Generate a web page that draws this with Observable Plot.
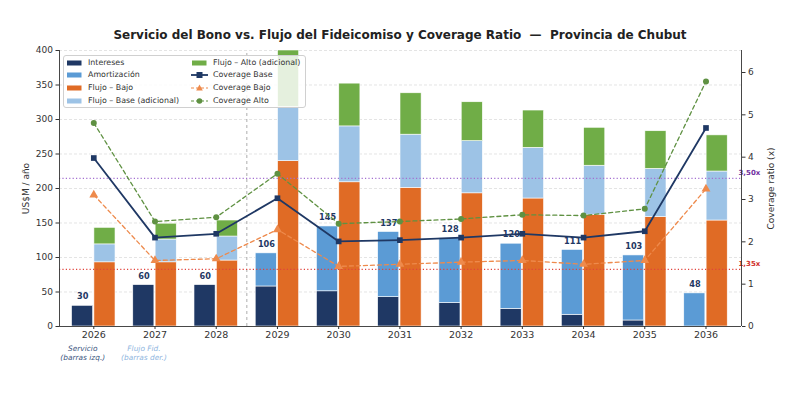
<!DOCTYPE html>
<html>
<head>
<meta charset="utf-8">
<script src="https://cdn.jsdelivr.net/npm/d3@7"></script>
<script src="https://cdn.jsdelivr.net/npm/@observablehq/plot@0.6"></script>
<style>
  html, body { margin: 0; padding: 0; background: #fff; }
  #wrap { position: relative; width: 800px; height: 395px; font-family: "DejaVu Sans", sans-serif; }
  #title { height: 44px; box-sizing: border-box; padding-top: 28px; line-height: 14px; text-align: center;
           font-weight: bold; font-size: 12px; color: #222; white-space: pre; }
  #legend { position: absolute; left: 63px; top: 55px; width: 243px; height: 53px; box-sizing: border-box;
            border: 1px solid #d0d0d0; border-radius: 3px; background: rgba(255,255,255,0.82);
            font-size: 7.9px; color: #333; }
  .li { position: absolute; height: 12px; line-height: 12px; white-space: nowrap; }
  .li svg { position: absolute; left: 0; top: 0; }
  .li span { position: absolute; top: 0; }
</style>
</head>
<body>
<div id="wrap">
  <div id="title">Servicio del Bono vs. Flujo del Fideicomiso y Coverage Ratio  —  Provincia de Chubut</div>
  <div id="chart"></div>
  <div id="legend"></div>
</div>
<script>
// ---- data ----
const years = [2026, 2027, 2028, 2029, 2030, 2031, 2032, 2033, 2034, 2035, 2036];
const intereses    = [30, 60, 60, 58, 51, 42.5, 34, 25.6, 17, 8.7, 0];
const amortizacion = [0, 0, 0, 48, 94, 94.5, 94, 94.4, 94, 94.3, 48];
const servicioLabels = [30, 60, 60, 106, 145, 137, 128, 120, 111, 103, 48];
const flujoBajo      = [93, 93, 95.6, 239.6, 209, 201, 193, 185.5, 162, 158.5, 153.6];
const flujoBaseAdic  = [26, 33, 34.8, 78.4, 81, 77, 75.6, 73.5, 71, 70, 71];
const flujoAltoAdic  = [24, 23, 23.2, 82, 62, 60, 56.4, 54, 55, 54.5, 52.4];
const coverageBase = [3.98, 2.10, 2.19, 3.03, 2.01, 2.04, 2.10, 2.19, 2.10, 2.25, 4.69];
const coverageBajo = [3.11, 1.56, 1.60, 2.29, 1.42, 1.47, 1.52, 1.56, 1.47, 1.56, 3.25];
const coverageAlto = [4.81, 2.48, 2.58, 3.61, 2.43, 2.48, 2.54, 2.64, 2.62, 2.78, 5.79];
const leftTicks = [0, 50, 100, 150, 200, 250, 300, 350, 400];
const rightTicks = [0, 1, 2, 3, 4, 5, 6];
const thresholds = [{v: 3.50, label: "3,50x", color: "#7030a0", line: "#a36fd0"},
                    {v: 1.35, label: "1,35x", color: "#d0302a", line: "#e0443c"}];
const notes = [{x: 2025.82, l1: "Servicio", l2: "(barras izq.)", color: "#3b5680"},
               {x: 2026.82, l1: "Flujo Fid.", l2: "(barras der.)", color: "#8fb6e0"}];

const C = {
  intereses: "#1f3864", amort: "#5b9bd5", bajo: "#e06b25", base: "#9dc3e6", alto: "#70ad47",
  covBase: "#1f3864", covBajo: "#ee8a4c", covAlto: "#5f9142"
};

const yMax = 400, y2Max = 6.52, k = yMax / y2Max;
const xDomain = [2025.44, 2036.58];

// build stacked rows
const svc = [], flu = [];
years.forEach((yr, i) => {
  svc.push({year: yr, y1: 0, y2: intereses[i], fill: C.intereses});
  svc.push({year: yr, y1: intereses[i], y2: intereses[i] + amortizacion[i], fill: C.amort});
  const a = flujoBajo[i], b = a + flujoBaseAdic[i], c = b + flujoAltoAdic[i];
  flu.push({year: yr, y1: 0, y2: a, fill: C.bajo});
  flu.push({year: yr, y1: a, y2: b, fill: C.base});
  flu.push({year: yr, y1: b, y2: c, fill: C.alto});
});
const rows = years.map((yr, i) => ({
  year: yr, svc: intereses[i] + amortizacion[i], label: servicioLabels[i],
  base: coverageBase[i] * k, bajo: coverageBajo[i] * k, alto: coverageAlto[i] * k
}));

const chart = Plot.plot({
  width: 800, height: 351,
  marginTop: 6, marginBottom: 69, marginLeft: 59, marginRight: 59,
  style: {fontFamily: "DejaVu Sans, sans-serif", fontSize: "9px", color: "#333", background: "white"},
  x: {type: "linear", domain: xDomain, axis: null},
  y: {domain: [0, yMax], axis: null},
  color: {type: "identity"},
  marks: [
    Plot.ruleY(leftTicks.slice(1), {stroke: "#d8d8d8", strokeWidth: 0.7, strokeDasharray: "3,2"}),
    Plot.ruleX([2028.5], {y1: 0, y2: yMax, stroke: "#999", strokeWidth: 0.8, strokeDasharray: "3,3"}),
    Plot.rect(svc, {x1: d => d.year - 0.355, x2: d => d.year - 0.01, y1: "y1", y2: "y2", fill: "fill",
                    stroke: "white", strokeWidth: 0.6, clip: true}),
    Plot.rect(flu, {x1: d => d.year + 0.01, x2: d => d.year + 0.355, y1: "y1", y2: "y2", fill: "fill",
                    stroke: "white", strokeWidth: 0.6, clip: true}),
    Plot.text(rows, {x: d => d.year - 0.18, y: "svc", text: d => String(d.label), dy: -9,
                     fill: "#1f3864", fontWeight: "bold", fontSize: 8.2}),
    // thresholds
    Plot.ruleY(thresholds, {y: d => d.v * k, stroke: "line", strokeWidth: 1.1, strokeDasharray: "1.2,2.2"}),
    Plot.text(thresholds, {x: xDomain[1], y: d => d.v * k, text: "label", fill: "color", textAnchor: "start",
                           dx: -3, dy: -6, fontWeight: "bold", fontSize: 7}),
    // coverage lines
    Plot.line(rows, {x: "year", y: "alto", stroke: C.covAlto, strokeWidth: 1.3, strokeDasharray: "4,3"}),
    Plot.dot(rows, {x: "year", y: "alto", fill: C.covAlto, symbol: "circle", r: 3}),
    Plot.line(rows, {x: "year", y: "bajo", stroke: C.covBajo, strokeWidth: 1.3, strokeDasharray: "4,3"}),
    Plot.dot(rows, {x: "year", y: "bajo", fill: C.covBajo, symbol: "triangle", r: 3.3}),
    Plot.line(rows, {x: "year", y: "base", stroke: C.covBase, strokeWidth: 1.8}),
    Plot.dot(rows, {x: "year", y: "base", fill: C.covBase, symbol: "square", r: 3.2}),
    // spines
    Plot.ruleY([0], {stroke: "#333", strokeWidth: 0.9}),
    Plot.ruleX([xDomain[0], xDomain[1]], {y1: 0, y2: yMax, stroke: "#333", strokeWidth: 0.9}),
    // axes
    Plot.axisX({ticks: years, tickFormat: d => String(d), tickSize: 3, fontSize: 9.5, tickPadding: 1.5}),
    Plot.axisY({anchor: "left", ticks: leftTicks, tickSize: 3.5, tickPadding: 3, fontSize: 9,
                label: "US$M / año", labelAnchor: "center", labelOffset: 37, labelArrow: "none"}),
    Plot.axisY({anchor: "right", ticks: rightTicks.map(v => v * k), tickFormat: d => String(Math.round(d / k)),
                tickSize: 3.5, tickPadding: 3, fontSize: 9,
                label: "Coverage ratio (x)", labelAnchor: "center", labelOffset: 32, labelArrow: "none"}),
    // notes under the axis
    Plot.text(notes, {x: "x", y: 0, text: "l1", fill: "color", dy: 22, fontStyle: "italic", fontSize: 7.4}),
    Plot.text(notes, {x: "x", y: 0, text: "l2", fill: "color", dy: 31, fontStyle: "italic", fontSize: 7.4})
  ]
});
document.getElementById("chart").appendChild(chart);

// legend
const legendItems = [
  {label: "Intereses", kind: "patch", color: C.intereses, col: 0, row: 0},
  {label: "Amortización", kind: "patch", color: C.amort, col: 0, row: 1},
  {label: "Flujo – Bajo", kind: "patch", color: C.bajo, col: 0, row: 2},
  {label: "Flujo – Base (adicional)", kind: "patch", color: C.base, col: 0, row: 3},
  {label: "Flujo – Alto (adicional)", kind: "patch", color: C.alto, col: 1, row: 0},
  {label: "Coverage Base", kind: "square", color: C.covBase, col: 1, row: 1},
  {label: "Coverage Bajo", kind: "triangle", color: C.covBajo, col: 1, row: 2},
  {label: "Coverage Alto", kind: "circle", color: C.covAlto, col: 1, row: 3}
];
const leg = document.getElementById("legend");
legendItems.forEach(it => {
  const div = document.createElement("div");
  div.className = "li";
  div.style.left = (it.col ? 127 : 2) + "px";
  div.style.top = (0.5 + it.row * 12.8) + "px";
  let sw = "";
  if (it.kind === "patch") {
    sw = `<rect x="1" y="3.5" width="14.5" height="5" fill="${it.color}"/>`;
  } else {
    const dash = it.kind === "square" ? "" : `stroke-dasharray="3,2"`;
    const w = it.kind === "square" ? 1.8 : 1.2;
    let m = "";
    if (it.kind === "square") m = `<rect x="5.5" y="3" width="6" height="6" fill="${it.color}"/>`;
    if (it.kind === "triangle") m = `<path d="M8.5,2.6 L11.8,8.4 L5.2,8.4 Z" fill="${it.color}"/>`;
    if (it.kind === "circle") m = `<circle cx="8.5" cy="6" r="2.8" fill="${it.color}"/>`;
    sw = `<line x1="0" y1="6" x2="17" y2="6" stroke="${it.color}" stroke-width="${w}" ${dash}/>` + m;
  }
  div.innerHTML = `<svg width="18" height="12">${sw}</svg><span style="left:22px">${it.label}</span>`;
  leg.appendChild(div);
});
</script>
</body>
</html>
